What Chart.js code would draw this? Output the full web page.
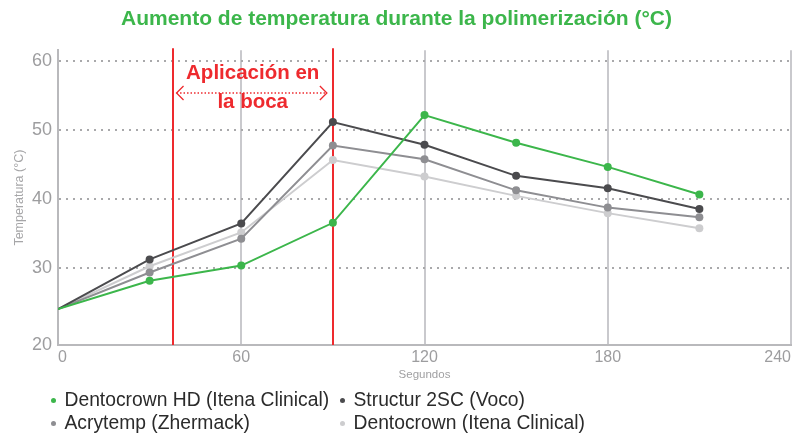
<!DOCTYPE html>
<html>
<head>
<meta charset="utf-8">
<script src="https://cdn.jsdelivr.net/npm/chart.js@4"></script>
<style>
  body { margin: 0; background: #fff; }
  #wrap { position: relative; width: 795px; height: 435px; }
  #legend {
    position: absolute; left: 51px; top: 388px;
    display: grid; grid-template-columns: 289px auto;
    font-family: "Liberation Sans", Arial, sans-serif;
    font-size: 19.3px; line-height: 23px; color: #2b2b2b;
  }
  #legend .dot {
    display: inline-block; width: 5px; height: 5px; border-radius: 50%;
    margin-right: 8.5px; vertical-align: 3px;
  }
</style>
</head>
<body>
<div id="wrap">
  <canvas id="chart" width="795" height="435"></canvas>
  <div id="legend"></div>
</div>
<script>
const seconds = [0, 30, 60, 90, 120, 150, 180, 210];
const dentocrownHD = [24.0, 28.1, 30.3, 36.5, 52.1, 48.1, 44.6, 40.6];
const structur2SC = [24.0, 31.2, 36.4, 51.1, 47.8, 43.3, 41.5, 38.5];
const acrytemp = [24.0, 29.3, 34.2, 47.7, 45.7, 41.2, 38.7, 37.3];
const dentocrown = [24.0, 30.2, 35.1, 45.6, 43.2, 40.4, 37.9, 35.7];

const xTicks = [0, 60, 120, 180, 240];
const yTicks = [20, 30, 40, 50, 60];

// zona "Aplicación en la boca"
const mouthStart = 37.5;
const mouthEnd = 90;

const FONT = '"Liberation Sans", Arial, sans-serif';
const RED = "#ee2a2e";

const series = [
  { label: "Dentocrown HD (Itena Clinical)", data: dentocrownHD, color: "#3cb64b" },
  { label: "Structur 2SC (Voco)", data: structur2SC, color: "#4b4b4e" },
  { label: "Acrytemp (Zhermack)", data: acrytemp, color: "#8e8e92" },
  { label: "Dentocrown (Itena Clinical)", data: dentocrown, color: "#cdcdcf" },
];

const Y_MIN = 18.8;
const Y_MAX = 61.5;

const mouthZone = {
  id: "mouthZone",
  beforeDatasetsDraw(chart) {
    const { ctx, chartArea } = chart;
    const x = chart.scales.x;
    ctx.save();
    ctx.strokeStyle = RED;
    ctx.lineWidth = 2;
    [mouthStart, mouthEnd].forEach((v) => {
      const px = Math.round(x.getPixelForValue(v));
      ctx.beginPath();
      ctx.moveTo(px, chartArea.top - 2);
      ctx.lineTo(px, chartArea.bottom);
      ctx.stroke();
    });
    ctx.restore();
  },
  afterDatasetsDraw(chart) {
    const { ctx } = chart;
    const x = chart.scales.x;
    const y = chart.scales.y;
    const x1 = x.getPixelForValue(mouthStart) + 4;
    const x2 = x.getPixelForValue(mouthEnd) - 6;
    const ay = y.getPixelForValue(55.3);
    const cx = x.getPixelForValue((mouthStart + mouthEnd) / 2);
    ctx.save();
    ctx.strokeStyle = RED;
    ctx.lineWidth = 1.3;
    ctx.setLineDash([1.5, 2]);
    ctx.beginPath();
    ctx.moveTo(x1, ay);
    ctx.lineTo(x2, ay);
    ctx.stroke();
    ctx.setLineDash([]);
    ctx.beginPath();
    ctx.moveTo(x1 + 7, ay - 7);
    ctx.lineTo(x1, ay);
    ctx.lineTo(x1 + 7, ay + 7);
    ctx.moveTo(x2 - 7, ay - 7);
    ctx.lineTo(x2, ay);
    ctx.lineTo(x2 - 7, ay + 7);
    ctx.stroke();
    ctx.fillStyle = RED;
    ctx.font = "bold 20.5px " + FONT;
    ctx.textAlign = "center";
    ctx.textBaseline = "middle";
    ctx.fillText("Aplicación en", cx, y.getPixelForValue(58.2));
    ctx.fillText("la boca", cx, y.getPixelForValue(54.0));
    ctx.restore();
  },
};

new Chart(document.getElementById("chart"), {
  type: "line",
  data: {
    labels: seconds,
    datasets: series.map((s) => ({
      label: s.label,
      data: s.data.map((v, i) => ({ x: seconds[i], y: v })),
      borderColor: s.color,
      backgroundColor: s.color,
      borderWidth: 2,
      tension: 0,
      pointRadius: (ctx) => (ctx.dataIndex === 0 ? 0 : 4),
      pointBorderWidth: 0,
      pointHoverRadius: 4,
    })),
  },
  options: {
    responsive: false,
    animation: false,
    layout: { padding: { left: 0, right: 2, top: 0, bottom: 50 } },
    plugins: {
      legend: { display: false },
      tooltip: { enabled: false },
      title: {
        display: true,
        text: "Aumento de temperatura durante la polimerización (°C)",
        color: "#3cb64b",
        font: { family: FONT, size: 21, weight: "bold" },
        padding: { top: 7, bottom: 18 },
      },
    },
    scales: {
      x: {
        type: "linear",
        min: 0,
        max: 240,
        afterBuildTicks: (scale) => {
          scale.ticks = xTicks.map((v) => ({ value: v }));
        },
        afterFit: (scale) => {
          scale.height = 40;
        },
        ticks: {
          align: "inner",
          padding: 3,
          color: "#9d9d9f",
          font: { family: FONT, size: 16 },
        },
        grid: { color: "#c9c9cd", lineWidth: 2, drawTicks: false },
        border: { color: "#b9b9bc", width: 2 },
        title: {
          display: true,
          text: "Segundos",
          color: "#a0a0a2",
          font: { family: FONT, size: 11.5 },
          padding: { top: 0, bottom: 3 },
        },
      },
      y: {
        min: Y_MIN,
        max: Y_MAX,
        afterBuildTicks: (scale) => {
          // la marca "20" se dibuja sobre el eje, como en el original
          scale.ticks = yTicks.map((v, i) => ({ value: i === 0 ? Y_MIN : v }));
        },
        afterFit: (scale) => {
          scale.width = 58;
        },
        ticks: {
          padding: 6,
          color: "#9d9d9f",
          font: { family: FONT, size: 18 },
          callback: (v, i) => String(yTicks[i]),
        },
        grid: {
          color: (ctx) => (ctx.index === 0 ? "rgba(0,0,0,0)" : "#a9a9ab"),
          lineWidth: 2,
          drawTicks: false,
          tickBorderDash: [2, 5],
        },
        border: { color: "#b9b9bc", width: 2, dash: [2, 5] },
        title: {
          display: true,
          text: "Temperatura (°C)",
          color: "#a6a6a8",
          font: { family: FONT, size: 12.5 },
          padding: { top: 12.5, bottom: 0 },
        },
      },
    },
  },
  plugins: [mouthZone],
});

const legend = document.getElementById("legend");
series.forEach((s) => {
  const item = document.createElement("div");
  item.innerHTML = `<span class="dot" style="background:${s.color}"></span>${s.label}`;
  legend.appendChild(item);
});
</script>
</body>
</html>
